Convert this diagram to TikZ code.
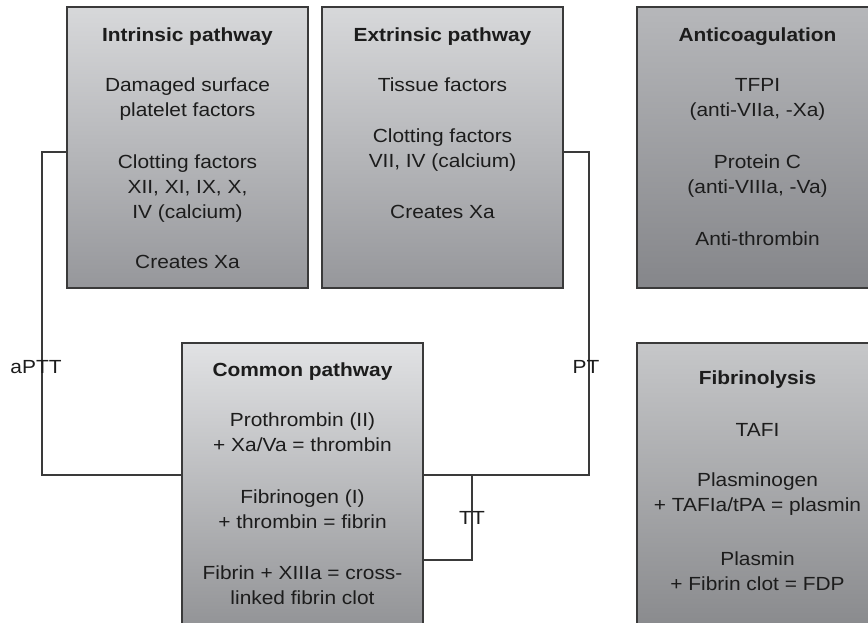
\documentclass[tikz,border=0pt]{standalone}
\usepackage{fontspec}
\setmainfont[FakeStretch=1.1]{Liberation Sans}
\usetikzlibrary{calc}
\definecolor{txt}{HTML}{1C1C1C}
\definecolor{ln}{HTML}{3A3A3A}
\definecolor{c1top}{HTML}{D7D8DA}
\definecolor{c1bot}{HTML}{96979B}
\definecolor{c2top}{HTML}{B6B7BA}
\definecolor{c2bot}{HTML}{85868A}
\definecolor{c3top}{HTML}{E1E2E4}
\definecolor{c3bot}{HTML}{8E8F92}
\definecolor{c4top}{HTML}{C6C7C9}
\definecolor{c4bot}{HTML}{86878A}
\begin{document}
\begin{tikzpicture}[x=1pt,y=-1pt,
  box/.style={draw=ln, line width=1.1pt, rectangle, inner sep=0pt, outer sep=0pt,
    anchor=north west, minimum width=241pt, shading=axis},
  lightbox/.style={box, minimum height=281pt, top color=c1top, bottom color=c1bot},
  darkbox/.style={box, minimum height=281pt, top color=c2top, bottom color=c2bot},
  txtblock/.style={anchor=north, align=center, inner sep=0pt, text=txt,
    font=\fontsize{19}{25}\selectfont},
  conn/.style={draw=ln, line width=1.1pt},
  lbl/.style={inner sep=0pt, text=txt, font=\fontsize{19}{25}\selectfont}
]
\useasboundingbox (0,0) rectangle (868,622);
\clip (0,0) rectangle (868,622);

% boxes
\node[lightbox] (intr) at (67,7) {};
\node[lightbox] (extr) at (322,7) {};
\node[darkbox] (anti) at (637,7) {};
\node[box, minimum height=300pt, top color=c3top, bottom color=c3bot] (comm) at (182,343) {};
\node[box, minimum height=300pt, top color=c4top, bottom color=c4bot] (fibr) at (637,343) {};

% texts
\node[txtblock] (intrT) at ($(intr.north)+(0,21)$) {\textbf{Intrinsic pathway}\\[25pt]
  Damaged surface\\ platelet factors\\[27pt]
  Clotting factors\\ XII, XI, IX, X,\\ IV (calcium)\\[25pt]
  Creates Xa};
\node[txtblock] (extrT) at ($(extr.north)+(0,21)$) {\textbf{Extrinsic pathway}\\[25pt]
  Tissue factors\\[26pt]
  Clotting factors\\ VII, IV (calcium)\\[26pt]
  Creates Xa};
\node[txtblock] (antiT) at ($(anti.north)+(0,21)$) {\textbf{Anticoagulation}\\[25pt]
  TFPI\\ (anti-VIIa, -Xa)\\[27pt]
  Protein C\\ (anti-VIIIa, -Va)\\[27pt]
  Anti-thrombin};
\node[txtblock] (commT) at ($(comm.north)+(0,20)$) {\textbf{Common pathway}\\[25pt]
  Prothrombin (II)\\ + Xa/Va = thrombin\\[27pt]
  Fibrinogen (I)\\ + thrombin = fibrin\\[26pt]
  Fibrin + XIIIa = cross-\\ linked fibrin clot};
\node[txtblock] (fibrT) at ($(fibr.north)+(0,28)$) {\textbf{Fibrinolysis}\\[27pt]
  TAFI\\[25pt]
  Plasminogen\\ + TAFIa/tPA = plasmin\\[29pt]
  Plasmin\\ + Fibrin clot = FDP};

% connector corners
\coordinate (a1) at (42,152);
\coordinate (a2) at (42,475);
\coordinate (p1) at (589,152);
\coordinate (p2) at (589,475);
\coordinate (t1) at (472,475);
\coordinate (t2) at (472,560);

\draw[conn] (intr.west |- a1) -- (a1) -- (a2) -- (comm.west |- a2);
\draw[conn] (extr.east |- p1) -- (p1) -- (p2) -- (comm.east |- p2);
\draw[conn] (t1) -- (t2) -- (comm.east |- t2);

\node[lbl] (aptt) at (36,367) {aPTT};
\node[lbl] (pt) at (586,367) {PT};
\node[lbl] (tt) at (472,518) {TT};
\end{tikzpicture}
\end{document}
